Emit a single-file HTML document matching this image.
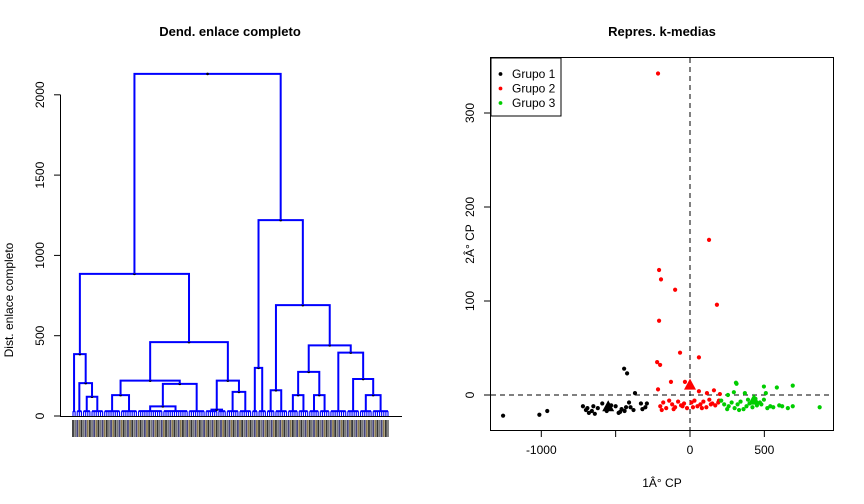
<!DOCTYPE html>
<html><head><meta charset="utf-8">
<style>
html,body{margin:0;padding:0;background:#fff;}
svg{display:block;font-family:"Liberation Sans",Arial,sans-serif;}
</style></head>
<body>
<svg id="c" width="864" height="504" viewBox="0 0 864 504" xmlns="http://www.w3.org/2000/svg">
<text x="230" y="36" text-anchor="middle" font-size="13" font-weight="bold">Dend. enlace completo</text>
<text x="662" y="36" text-anchor="middle" font-size="13" font-weight="bold">Repres. k-medias</text>
<text transform="translate(13,300) rotate(-90)" text-anchor="middle" font-size="12">Dist. enlace completo</text>
<text x="662" y="487" text-anchor="middle" font-size="12">1Â° CP</text>
<text transform="translate(474,244) rotate(-90)" text-anchor="middle" font-size="12">2Â° CP</text>
<g id="dend"></g>
<g id="scat"></g>
</svg>
<script>
// ---- Dendrogram data: [height, left, right]; numbers = leaf groups (count of leaves)
const dendTree = [2130,
  [885,
    [385, 2, [205, 3, [120, 4, 6]]],
    [460,
      [220, [130, 8, 8], [200, [60, 12, 12], 8]],
      [220, [40, 6, 4], [150, 6, 6]]]],
  [1220,
    [300, 3, 4],
    [690, [160, 4, 6],
      [440, [275, [130, 5, 5], [130, 5, 5]],
            [395, 8, [230, 6, [130, 6, 8]]]]]]];
const dendTicks = [0, 500, 1000, 1500, 2000];
const leafGroupHeight = 30;

// ---- Scatter data
const g1x = [-1257,-1013,-960,-720,-700,-690,-680,-660,-650,-640,-620,-590,-560,-530,-500,-480,-470,-460,-440,-430,-410,-400,-380,-370,-443,-423,-330,-320,-300,-290];
const g1y = [-22,-21,-17,-12,-16,-14,-19,-17,-12,-20,-14,-9,-17,-11,-12,-19,-18,-15,-17,-13,-8,-13,-16,2,28,23,-9,-15,-13,-9];
const g2x = [-215,-208,-195,-100,-208,128,181,-67,60,-221,-201,-128,-34,-215,60,114,161,201,-200,-180,-160,-140,-120,-100,-80,-60,-40,-20,10,30,50,70,90,110,130,150,170,190,-190,-110,-50,20,80,140,195];
const g2y = [342,133,123,112,79,165,96,45,40,35,32,14,14,6,4,2,5,1,-12,-8,-14,-6,-10,-13,-7,-11,-9,-14,-8,-6,-12,-10,-7,-13,-5,-9,-11,-8,-16,-15,-12,-13,-14,-10,-6];
const g3x = [309,313,497,691,584,295,369,510,255,497,872,691,658,210,230,260,280,300,320,340,360,380,400,420,450,470,520,540,560,600,620,250,330,390,440,480];
const g3y = [13,12,9,10,8,3,2,2,0,-5,-13,-12,-14,-6,-10,-12,-8,-14,-10,-7,-15,-12,-9,-13,-11,-8,-14,-12,-13,-11,-12,-15,-16,-5,-4,-10];
const centX = [-550, 0, 430];
const centY = [-13, 10, -6];
const groupColors = ["#000000","#ff0000","#00cd00"];
const groupNames = ["Grupo 1","Grupo 2","Grupo 3"];
const sxTicks = [-1000, -500, 0, 500];
const sxLabels = ["-1000", "", "0", "500"];
const syTicks = [0, 100, 200, 300];

const NS = "http://www.w3.org/2000/svg";
function mk(parent, tag, attrs){const e=document.createElementNS(NS,tag);for(const k in attrs)e.setAttribute(k,attrs[k]);parent.appendChild(e);return e;}

// ---------- Dendrogram ----------
const D = document.getElementById("dend");
const dY = v => 416 - v * 0.1606;
function countLeaves(n){return typeof n==="number"?n:countLeaves(n[1])+countLeaves(n[2]);}
const NL = countLeaves(dendTree);
const dX = i => 73 + i * (315 / (NL - 1));
let leafIdx = 0;
function drawNode(n){
  if (typeof n === "number"){
    const x0 = dX(leafIdx), x1 = dX(leafIdx + n - 1);
    const yTop = dY(leafGroupHeight);
    for (let k = 0; k < n; k++){
      const lx = dX(leafIdx + k);
      const l = mk(D,"line",{x1:lx,y1:yTop,x2:lx,y2:dY(0),stroke:"#0000ff","stroke-width":1.1});
      
      
    }
    const b = mk(D,"line",{x1:x0,y1:yTop,x2:x1,y2:yTop,stroke:"#0000ff","stroke-width":2});
    
    
    leafIdx += n;
    return {x:(x0+x1)/2, h:leafGroupHeight};
  }
  const L = drawNode(n[1]), R = drawNode(n[2]);
  const y = dY(n[0]);
  const p = mk(D,"path",{d:`M${L.x},${dY(L.h)}V${y}H${R.x}V${dY(R.h)}`,fill:"none",stroke:"#0000ff","stroke-width":2});
  
  
  const cx = (L.x + R.x) / 2;
  const d = mk(D,"circle",{cx:cx,cy:y,r:1.3,fill:"#000"});
  
  
  return {x:cx, h:n[0]};
}
drawNode(dendTree);
const bl = mk(D,"line",{x1:60,y1:416.5,x2:402,y2:416.5,stroke:"#000","stroke-width":1});


for (let i = 0; i < NL; i++){
  const r = mk(D,"rect",{x:dX(i)-0.9,y:420,width:1.8,height:17,fill:["#333","#777","#44447a","#8a7a50"][i%4]});
  
  
}
const ax = mk(D,"line",{x1:60.5,y1:dY(dendTicks[0]),x2:60.5,y2:dY(dendTicks[dendTicks.length-1]),stroke:"#000"});


dendTicks.forEach(v=>{
  const t = mk(D,"line",{x1:54,y1:dY(v),x2:60.5,y2:dY(v),stroke:"#000"});
  
  
  const tx = mk(D,"text",{transform:`translate(44,${dY(v)}) rotate(-90)`,"text-anchor":"middle","font-size":12});
  tx.textContent = v;
  
  
});

// ---------- Scatter ----------
const S = document.getElementById("scat");
const sX = v => 690 + v * 0.1487;
const sY = v => 395 - v * 0.94;
const frame = mk(S,"rect",{x:490.5,y:57.5,width:343,height:373,fill:"none",stroke:"#000"});


const hz = mk(S,"line",{x1:491,y1:sY(0),x2:833,y2:sY(0),stroke:"#000","stroke-dasharray":"5,4"});


const vt = mk(S,"line",{x1:sX(0),y1:58,x2:sX(0),y2:430,stroke:"#000","stroke-dasharray":"5,4"});


sxTicks.forEach((v,i)=>{
  const t = mk(S,"line",{x1:sX(v),y1:431,x2:sX(v),y2:437,stroke:"#000"});
  
  
  const tx = mk(S,"text",{x:sX(v),y:454,"text-anchor":"middle","font-size":12});
  tx.textContent = sxLabels[i];
  
  
});
syTicks.forEach(v=>{
  const t = mk(S,"line",{x1:484,y1:sY(v),x2:490.5,y2:sY(v),stroke:"#000"});
  
  
  const tx = mk(S,"text",{transform:`translate(474,${sY(v)}) rotate(-90)`,"text-anchor":"middle","font-size":12});
  tx.textContent = v;
  
  
});
[[g1x,g1y],[g2x,g2y],[g3x,g3y]].forEach((g,gi)=>{
  g[0].forEach((x,i)=>{
    const c = mk(S,"circle",{cx:sX(x),cy:sY(g[1][i]),r:2.1,fill:groupColors[gi]});
    
    
  });
});
centX.forEach((x,i)=>{
  const cx = sX(x), cy = sY(centY[i]);
  const p = mk(S,"polygon",{points:`${cx},${cy-7} ${cx-6},${cy+4} ${cx+6},${cy+4}`,fill:groupColors[i]});
  
  
});
const lg = mk(S,"rect",{x:491,y:58,width:70,height:58,fill:"#fff",stroke:"#000"});


groupNames.forEach((n,i)=>{
  const y = 74 + i*14.5;
  const c = mk(S,"circle",{cx:500.5,cy:y,r:1.9,fill:groupColors[i]});
  
  
  const t = mk(S,"text",{x:512,y:y+4,"font-size":12});
  t.textContent = n;
  
  
});
</script>
</body></html>
